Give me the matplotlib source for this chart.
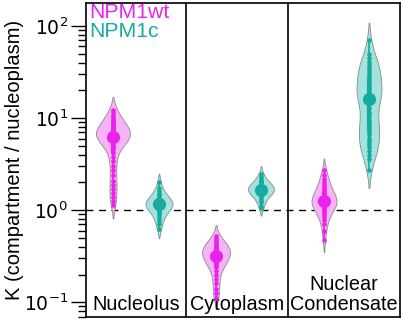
import numpy as np
import matplotlib
matplotlib.use("Agg")
import matplotlib.pyplot as plt

plt.rcParams['font.family'] = ['Liberation Sans', 'DejaVu Sans']

categories = ["Nucleolus", "Cytoplasm", "Nuclear\nCondensate"]
series_names = ["NPM1wt", "NPM1c"]

wt_nucleolus = [1.13, 1.25, 1.4, 1.55, 1.7, 1.9, 2.1, 2.4, 2.7, 3.0, 3.4, 3.8, 4.2,
                4.6, 4.9, 5.1, 5.3, 5.5, 5.6, 5.8, 5.9, 6.0, 6.1, 6.2, 6.3, 6.4, 6.5,
                6.6, 6.7, 6.8, 6.9, 7.0, 7.1, 7.2, 7.4, 7.5, 7.7, 7.9, 8.1, 8.3, 8.5,
                8.8, 9.1, 9.4, 9.8, 10.3, 10.9, 11.6, 12.2]
c_nucleolus = [2.0, 1.75, 1.6, 1.5, 1.45, 1.4, 1.35, 1.3, 1.27, 1.24, 1.22, 1.2, 1.19,
               1.17, 1.15, 1.13, 1.1, 1.08, 1.05, 1.02, 1.0, 0.97, 0.93, 0.88, 0.82,
               0.76, 0.7, 0.62]
wt_cytoplasm = [0.53, 0.49, 0.46, 0.44, 0.42, 0.41, 0.40, 0.39, 0.38, 0.37, 0.36, 0.35,
                0.34, 0.335, 0.33, 0.32, 0.31, 0.30, 0.29, 0.28, 0.27, 0.26, 0.25, 0.24,
                0.22, 0.20, 0.18, 0.16, 0.14, 0.125, 0.11]
c_cytoplasm = [2.5, 2.3, 2.15, 2.05, 2.0, 1.95, 1.9, 1.85, 1.8, 1.78, 1.75, 1.72, 1.7,
               1.67, 1.65, 1.62, 1.6, 1.57, 1.54, 1.5, 1.46, 1.42, 1.37, 1.3, 1.22,
               1.12, 1.05]
wt_condensate = [2.7, 2.4, 2.2, 2.0, 1.9, 1.8, 1.7, 1.62, 1.55, 1.5, 1.45, 1.4, 1.36,
                 1.32, 1.29, 1.26, 1.24, 1.22, 1.2, 1.17, 1.14, 1.11, 1.08, 1.04, 1.0,
                 0.95, 0.9, 0.84, 0.78, 0.7, 0.6, 0.47]
c_condensate = [70, 50, 45, 41, 38, 35, 33, 31, 29, 27, 25, 23.5, 22, 20.5, 19, 18, 17.5,
                17, 16, 15, 13, 11.5, 10.5, 9.5, 8.8, 8.2, 7.6, 7.0, 6.5, 6.0, 5.6, 5.2,
                4.8, 4.4, 4.0, 3.6, 2.7]

groups = [wt_nucleolus, c_nucleolus, wt_cytoplasm, c_cytoplasm, wt_condensate, c_condensate]
positions = [0.27, 0.73, 1.30, 1.75, 2.38, 2.83]
widths = [0.34, 0.27, 0.28, 0.26, 0.25, 0.25]
bws = [0.09, 0.06, 0.07, 0.05, 0.08, 0.12]
kinds = [0, 1, 0, 1, 0, 1]

dark = ["#e923e9", "#17aa9e"]
light = ["#f6b4f6", "#a3e3dd"]

fig = plt.figure(figsize=(4.04, 3.25), dpi=100)
ax = fig.add_axes([86/404, 8/325, 314/404, 314/325])


def kde_stats(vals, bw):
    lv = np.log10(np.asarray(vals, dtype=float))
    lo, hi = lv.min() - 1.6 * bw, lv.max() + 1.6 * bw
    coords = np.linspace(lo, hi, 300)
    dens = np.exp(-0.5 * ((coords[:, None] - lv[None, :]) / bw) ** 2).sum(axis=1)
    return dict(coords=coords, vals=dens, mean=lv.mean(), median=np.median(lv),
                min=lo, max=hi)


for vals, pos, w, bw, k in zip(groups, positions, widths, bws, kinds):
    st = kde_stats(vals, bw)
    parts = ax.violin([st], positions=[pos], widths=[w], showmeans=False,
                      showextrema=False, showmedians=False)
    for b in parts['bodies']:
        b.set_facecolor(light[k])
        b.set_edgecolor("#8a8a8a")
        b.set_linewidth(0.6)
        b.set_alpha(1)
        b.set_zorder(2)
    lv = np.log10(vals)
    q1, q3 = np.percentile(lv, [25, 75])
    ax.plot([pos, pos], [lv.min(), lv.max()], color=dark[k], lw=1.2, zorder=3)
    ax.plot([pos, pos], [q1, q3], color=dark[k], lw=3.0, zorder=3,
            solid_capstyle='butt')
    ax.scatter(np.full(len(lv), pos), lv, s=11, color=dark[k], zorder=4, linewidths=0)
    ax.scatter([pos], [np.median(lv)], s=90, color=dark[k], zorder=5, linewidths=0)

ax.axhline(0, color="black", lw=1, ls=(0, (5, 4)), zorder=1)
for xd in [1.0, 2.02]:
    ax.axvline(xd, color="black", lw=1.2, zorder=1)

ax.set_xlim(0, 3.14)
ax.set_ylim(-1.16, 2.25)
ax.set_xticks([])
ax.set_yticks([-1, 0, 1, 2])
ax.set_yticklabels([r"$10^{-1}$", r"$10^{0}$", r"$10^{1}$", r"$10^{2}$"], fontsize=13.5)
minor = [d + np.log10(m) for d in [-2, -1, 0, 1, 2] for m in range(2, 10)]
minor = [m for m in minor if -1.16 <= m <= 2.25]
ax.set_yticks(minor, minor=True)
ax.tick_params(axis='y', which='major', length=11, width=1, direction='out', pad=2)
ax.tick_params(axis='y', which='minor', length=6, width=1, direction='out')
for s in ax.spines.values():
    s.set_linewidth(1.2)

ax.set_ylabel("K (compartment / nucleoplasm)", fontsize=14.5, labelpad=0)

ax.text(0.5, -1.13, categories[0], ha='center', va='bottom', fontsize=14.3)
ax.text(1.51, -1.13, categories[1], ha='center', va='bottom', fontsize=14.3)
ax.text(2.58, -1.13, categories[2], ha='center', va='bottom', fontsize=14.3,
        linespacing=1.05)

ax.text(0.01, 1.0, series_names[0], transform=ax.transAxes, ha='left', va='top',
        fontsize=15.3, color=dark[0])
ax.text(0.01, 0.938, series_names[1], transform=ax.transAxes, ha='left', va='top',
        fontsize=15.3, color=dark[1])

fig.savefig("out.png", dpi=100)
